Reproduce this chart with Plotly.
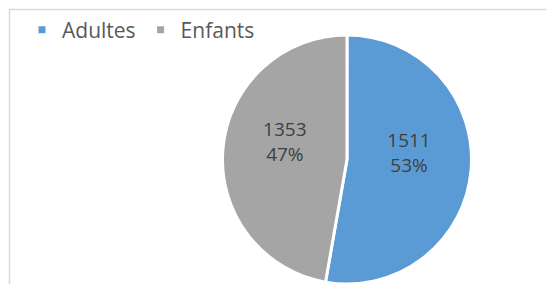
import plotly.graph_objects as go

labels = ["Adultes", "Enfants"]
values = [1511, 1353]
colors = ["#5B9BD5", "#A5A5A5"]

W, H = 546, 284
fig = go.Figure()
fig.add_trace(go.Pie(
    labels=labels, values=values, sort=False, direction="clockwise", rotation=0,
    marker=dict(colors=colors, line=dict(color="white", width=3)),
    texttemplate="%{value}<br>%{percent:.0%}<br> ", textposition="inside",
    insidetextorientation="horizontal",
    textfont=dict(family="Open Sans", size=19, color="#404040"),
    showlegend=False, hoverinfo="label+value+percent",
    domain=dict(x=[0.3855, 0.8855], y=[0, 249 / H]),
))
for lab, col in zip(labels, colors):
    fig.add_trace(go.Scatter(
        x=[None], y=[None], mode="markers", name=lab,
        marker=dict(symbol="square", size=7, color=col),
        showlegend=True,
    ))

fig.update_layout(
    width=W, height=H, margin=dict(l=0, r=0, t=0, b=0),
    paper_bgcolor="white", plot_bgcolor="white",
    xaxis=dict(visible=False), yaxis=dict(visible=False),
    showlegend=True,
    legend=dict(orientation="h", x=22 / W, xanchor="left", y=1 - 30 / H, yanchor="middle",
                font=dict(family="Open Sans", size=21, color="#595959"),
                itemwidth=30, bgcolor="rgba(0,0,0,0)"),
    shapes=[
        dict(type="line", xref="paper", yref="paper", x0=9.5 / W, x1=9.5 / W,
             y0=0, y1=1 - 9.5 / H, line=dict(color="#D9D9D9", width=1.5)),
        dict(type="line", xref="paper", yref="paper", x0=9.5 / W, x1=1,
             y0=1 - 9.5 / H, y1=1 - 9.5 / H, line=dict(color="#D9D9D9", width=1.5)),
    ],
)
fig.write_html("out.html", config={"displayModeBar": False},
               post_script="document.body.style.margin='0';")
